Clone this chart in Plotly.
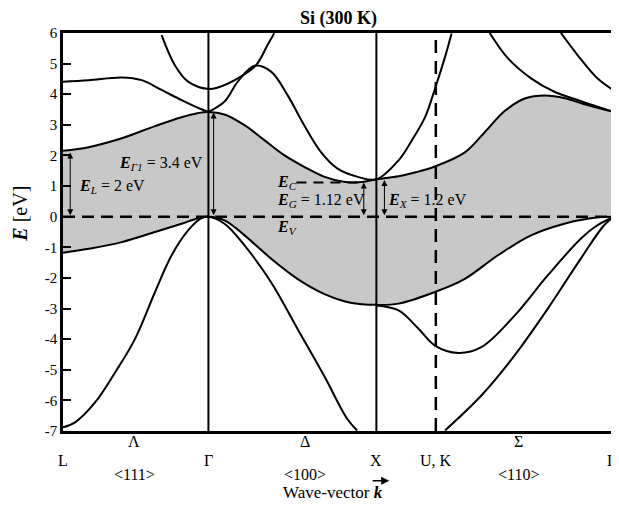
import plotly.graph_objects as go

# High-symmetry points along the path (k in units of 2*pi/a)
sym_k = [0.0, 0.866, 1.866, 2.220, 3.281]
sym_labels = ["L", "Γ", "X", "U, K", "Γ"]
dir_k = [0.425, 1.44, 2.71]
dir_greek = ["Λ", "Δ", "Σ"]
dir_miller = ["&lt;111&gt;", "&lt;100&gt;", "&lt;110&gt;"]

# Highest valence band (lower edge of shaded gap)
vb_top_k = [0.0, 0.153, 0.350, 0.548, 0.706, 0.804, 0.866, 0.962, 1.081, 1.239, 1.396,
            1.554, 1.712, 1.866, 1.998, 2.215, 2.393, 2.590, 2.787, 2.985, 3.143, 3.281]
vb_top_e = [-1.18, -1.05, -0.83, -0.50, -0.23, -0.05, 0.0, -0.12, -0.61, -1.37, -2.03,
            -2.52, -2.81, -2.88, -2.84, -2.46, -2.03, -1.26, -0.61, -0.23, -0.05, 0.0]

# Lowest conduction band (upper edge of shaded gap)
cb_bot_k = [0.0, 0.153, 0.350, 0.548, 0.706, 0.800, 0.866, 0.962, 1.081, 1.199, 1.317,
            1.436, 1.554, 1.672, 1.730, 1.791, 1.866, 1.998, 2.100, 2.215, 2.393, 2.510,
            2.630, 2.750, 2.870, 2.990, 3.100, 3.281]
cb_bot_e = [2.15, 2.27, 2.56, 2.96, 3.25, 3.38, 3.42, 3.34, 2.99, 2.50, 2.01,
            1.63, 1.31, 1.14, 1.12, 1.14, 1.22, 1.32, 1.45, 1.64, 2.10, 2.75,
            3.45, 3.86, 3.96, 3.87, 3.68, 3.42]

# Other conduction bands
cb_l3_k = [0.0, 0.153, 0.350, 0.469, 0.587, 0.706, 0.824, 0.866]
cb_l3_e = [4.41, 4.46, 4.55, 4.46, 4.14, 3.81, 3.51, 3.42]

cb_g2_k = [0.587, 0.666, 0.745, 0.866, 0.922, 1.041, 1.150, 1.218, 1.258]
cb_g2_e = [5.93, 4.95, 4.41, 4.17, 4.22, 4.52, 4.95, 5.61, 5.99]

cb_d_k = [0.866, 0.962, 1.041, 1.140, 1.239, 1.337, 1.436, 1.535, 1.633, 1.751, 1.866,
          1.998, 2.077, 2.156, 2.215, 2.275, 2.314]
cb_d_e = [3.42, 3.76, 4.41, 4.93, 4.74, 3.97, 2.99, 2.12, 1.58, 1.31, 1.22,
          1.84, 2.49, 3.25, 4.18, 5.22, 5.98]

cb_s1_k = [2.541, 2.650, 2.787, 2.926, 3.064, 3.182, 3.281]
cb_s1_e = [6.0, 5.17, 4.52, 4.08, 3.81, 3.59, 3.42]

cb_s2_k = [2.965, 3.064, 3.182, 3.281]
cb_s2_e = [6.0, 5.28, 4.52, 4.12]

# Other valence bands
vb_2_k = [0.0, 0.074, 0.192, 0.311, 0.429, 0.548, 0.647, 0.745, 0.824, 0.866, 0.962,
          1.081, 1.239, 1.396, 1.554, 1.692, 1.751]
vb_2_e = [-6.88, -6.71, -6.06, -5.08, -3.99, -2.46, -1.26, -0.45, -0.05, 0.0, -0.23,
          -0.94, -2.14, -3.66, -5.19, -6.6, -6.98]

vb_s1_k = [1.866, 1.998, 2.117, 2.215, 2.353, 2.491, 2.689, 2.886, 3.083, 3.182, 3.281]
vb_s1_e = [-2.90, -3.06, -3.66, -4.21, -4.45, -4.26, -3.23, -1.92, -0.72, -0.28, 0.0]

vb_s2_k = [2.275, 2.491, 2.689, 2.886, 3.083, 3.222, 3.281]
vb_s2_e = [-6.98, -5.84, -4.53, -3.01, -1.37, -0.28, 0.0]

# Energy markers
E_L, E_G1, E_G, E_X = 2.1, 3.4, 1.12, 1.2
y_ticks = list(range(-7, 7))

FONT = "Liberation Serif, Times New Roman, serif"
LW = 2

fig = go.Figure()
fig.add_trace(go.Scatter(x=vb_top_k, y=vb_top_e, mode="lines",
                         line=dict(color="black", width=LW, shape="spline"), showlegend=False))
fig.add_trace(go.Scatter(x=cb_bot_k, y=cb_bot_e, mode="lines", fill="tonexty",
                         fillcolor="#c8c8c8",
                         line=dict(color="black", width=LW, shape="spline"), showlegend=False))
for bk, be in [(cb_l3_k, cb_l3_e), (cb_g2_k, cb_g2_e), (cb_d_k, cb_d_e),
               (cb_s1_k, cb_s1_e), (cb_s2_k, cb_s2_e), (vb_2_k, vb_2_e),
               (vb_s1_k, vb_s1_e), (vb_s2_k, vb_s2_e)]:
    fig.add_trace(go.Scatter(x=bk, y=be, mode="lines",
                             line=dict(color="black", width=LW, shape="spline"),
                             showlegend=False))

shapes = []
for kv in [sym_k[1], sym_k[2]]:
    shapes.append(dict(type="line", xref="x", yref="y", x0=kv, x1=kv, y0=-7, y1=6,
                       line=dict(color="black", width=2)))
shapes.append(dict(type="line", xref="x", yref="y", x0=sym_k[3], x1=sym_k[3], y0=-7, y1=6,
                   line=dict(color="black", width=2.5, dash="13px,8px")))
shapes.append(dict(type="line", xref="x", yref="y", x0=sym_k[0], x1=sym_k[4], y0=0, y1=0,
                   line=dict(color="black", width=2.5, dash="12px,7px")))
shapes.append(dict(type="line", xref="x", yref="y", x0=1.39, x1=1.78, y0=E_G, y1=E_G,
                   line=dict(color="black", width=2, dash="10px,7px")))

ann = []
def arrow(k, top):
    ann.append(dict(x=k, y=top, ax=k, ay=0, xref="x", yref="y", axref="x", ayref="y",
                    showarrow=True, arrowhead=2, arrowside="end+start", arrowsize=1.2,
                    arrowwidth=1, arrowcolor="black", text=""))

arrow(0.043, E_L)
arrow(0.897, E_G1)
arrow(1.791, E_G)
arrow(1.914, E_X)

tf = dict(family=FONT, size=16, color="black")
ann.append(dict(x=0.082, y=1.0, xref="x", yref="y", xanchor="left", yanchor="middle",
                text="<b><i>E</i></b><sub><i>L</i></sub> = 2 eV", showarrow=False, font=tf))
ann.append(dict(x=0.846, y=1.74, xref="x", yref="y", xanchor="right", yanchor="middle",
                text="<b><i>E</i></b><sub><i>Γ1</i></sub> = 3.4 eV", showarrow=False, font=tf))
ann.append(dict(x=1.262, y=1.12, xref="x", yref="y", xanchor="left", yanchor="middle",
                text="<b><i>E</i></b><sub><i>C</i></sub>", showarrow=False, font=tf))
ann.append(dict(x=1.262, y=0.53, xref="x", yref="y", xanchor="left", yanchor="middle",
                text="<b><i>E</i></b><sub><i>G</i></sub> = 1.12 eV", showarrow=False, font=tf))
ann.append(dict(x=1.262, y=-0.36, xref="x", yref="y", xanchor="left", yanchor="middle",
                text="<b><i>E</i></b><sub><i>V</i></sub>", showarrow=False, font=tf))
ann.append(dict(x=1.922, y=0.53, xref="x", yref="y", xanchor="left", yanchor="middle",
                text="<b><i>E</i></b><sub><i>X</i></sub> = 1.2 eV", showarrow=False, font=tf))

lf = dict(family=FONT, size=16, color="black")
for i, (kv, lab) in enumerate(zip(sym_k, sym_labels)):
    ann.append(dict(x=kv, y=-0.074, xref="x", yref="paper", xanchor="center",
                    yanchor="middle", text=lab, showarrow=False, font=lf,
                    xshift=(-3 if i == len(sym_k) - 1 else 0)))
for kv, g, m in zip(dir_k, dir_greek, dir_miller):
    ann.append(dict(x=kv, y=-0.026, xref="x", yref="paper", xanchor="center",
                    yanchor="middle", text=g, showarrow=False, font=lf))
    ann.append(dict(x=kv, y=-0.11, xref="x", yref="paper", xanchor="center",
                    yanchor="middle", text=m, showarrow=False, font=lf))

ann.append(dict(x=0.5, y=1.037, xref="paper", yref="paper", xanchor="center", yanchor="middle",
                text="<b>Si (300 K)</b>", showarrow=False,
                font=dict(family=FONT, size=18, color="black")))
ann.append(dict(x=-0.077, y=0.545, xref="paper", yref="paper", xanchor="center",
                yanchor="middle", textangle=-90, text="<b><i>E</i></b> [eV]",
                showarrow=False, font=dict(family=FONT, size=20, color="black")))
ann.append(dict(x=0.49, y=-0.155, xref="paper", yref="paper", xanchor="center",
                yanchor="middle", text="Wave-vector <b><i>k</i></b>",
                showarrow=False, font=dict(family=FONT, size=17, color="black")))
ann.append(dict(x=0.592, y=-0.125, xref="paper", yref="paper", ax=-18, ay=0,
                showarrow=True, arrowhead=2, arrowsize=1, arrowwidth=1.6,
                arrowcolor="black", text=""))

# page has an 8px body margin: figure is sized/offset so the plot lands where the reference's does
fig.update_layout(
    width=611, height=495,
    margin=dict(l=54.5, r=2, t=25, b=71.5),
    paper_bgcolor="white", plot_bgcolor="white",
    shapes=shapes, annotations=ann, showlegend=False,
    xaxis=dict(range=[sym_k[0], sym_k[-1]], showgrid=False, zeroline=False,
               showticklabels=False, ticks="", showline=True, mirror=True,
               linecolor="black", linewidth=2.5),
    yaxis=dict(range=[-7, 6], showgrid=False, zeroline=False,
               tickvals=y_ticks, ticktext=[str(v) for v in y_ticks],
               ticks="inside", ticklen=8, tickwidth=2, tickcolor="black",
               showline=True, mirror=True, linecolor="black", linewidth=2.5,
               tickfont=dict(family=FONT, size=15, color="black")),
)

fig.write_html("out.html")
